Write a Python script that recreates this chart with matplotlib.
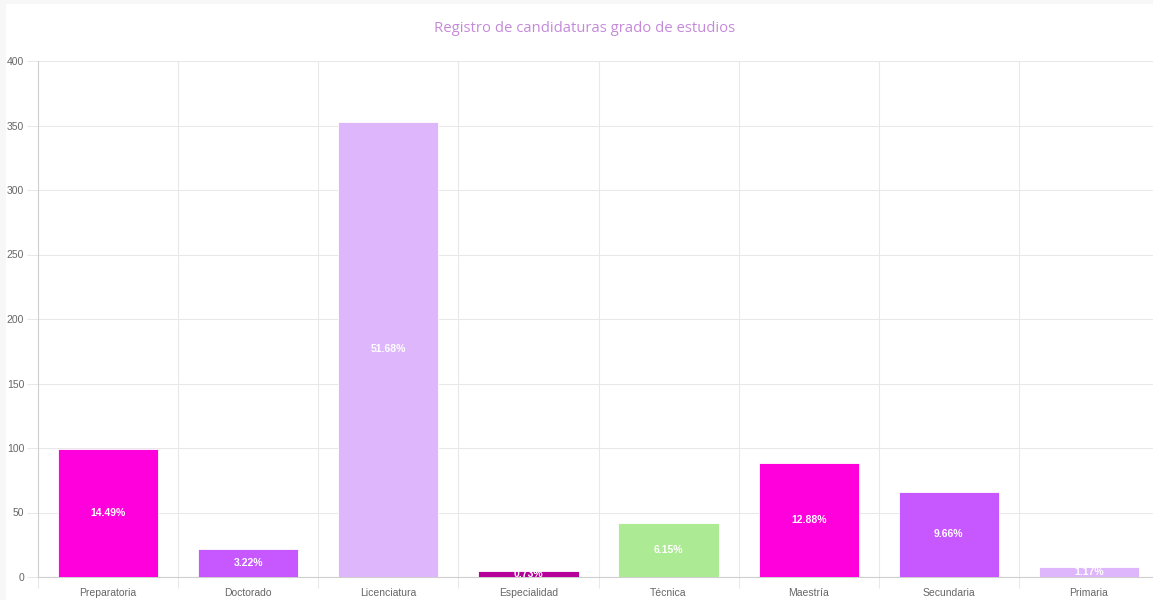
import matplotlib.pyplot as plt
from matplotlib.patches import Rectangle
import numpy as np

categorias = ['Preparatoria', 'Doctorado', 'Licenciatura', 'Especialidad',
              'Técnica', 'Maestría', 'Secundaria', 'Primaria']
valores = [99, 22, 353, 5, 42, 88, 66, 8]
porcentajes = ['14.49%', '3.22%', '51.68%', '0.73%', '6.15%', '12.88%', '9.66%', '1.17%']
colores = ['#ff00dd', '#c757fe', '#ddb6fb', '#b5009a',
           '#acea94', '#ff00dd', '#c757fe', '#ddb6fb']
y_ticks = [0, 50, 100, 150, 200, 250, 300, 350, 400]

W, H = 1153, 600
fig = plt.figure(figsize=(W / 100, H / 100), dpi=100)
fig.patch.set_facecolor('#f7f7f7')
fig.patches.append(Rectangle((6 / W, 0), 1, 1 - 4 / H, transform=fig.transFigure,
                             facecolor='white', edgecolor='none', zorder=-10))

left, right, top, bottom = 38, 1159, 61, 577
ax = fig.add_axes([left / W, 1 - bottom / H, (right - left) / W, (bottom - top) / H])
ax.set_facecolor('none')

x = np.arange(len(categorias))
bars = ax.bar(x, valores, width=0.715, color=colores, edgecolor='white',
              linewidth=0.6, zorder=3)
for b, p in zip(bars, porcentajes):
    ax.text(b.get_x() + b.get_width() / 2, b.get_height() / 2, p,
            ha='center', va='center', color='white', fontsize=7.5,
            fontweight='bold', family='Liberation Sans', zorder=4)

ax.set_xlim(-0.5, len(categorias) - 0.5)
ax.set_ylim(0, 400)
ax.set_yticks(y_ticks)
ax.set_xticks(x)
ax.set_xticklabels(categorias)
ax.set_xticks(np.arange(len(categorias)) - 0.5, minor=True)

ax.grid(axis='y', color='#e8e8e8', linewidth=0.75, zorder=0)
ax.grid(axis='x', which='minor', color='#e8e8e8', linewidth=0.75, zorder=0)
ax.tick_params(axis='x', which='major', length=0, pad=8)
ax.tick_params(axis='x', which='minor', length=8, color='#e8e8e8', width=0.75)
ax.tick_params(axis='y', length=8, color='#e8e8e8', width=0.75, pad=2)
for lbl in ax.get_xticklabels() + ax.get_yticklabels():
    lbl.set_family('Liberation Sans')
    lbl.set_fontsize(7.5)
    lbl.set_color('#666666')

for s in ['top', 'right']:
    ax.spines[s].set_visible(False)
ax.spines['left'].set_color('#cfcfcf')
ax.spines['bottom'].set_color('#cfcfcf')
ax.spines['left'].set_linewidth(0.8)
ax.spines['bottom'].set_linewidth(0.8)

fig.text(585 / W, 1 - 28 / H, 'Registro de candidaturas grado de estudios',
         ha='center', va='center', fontsize=10.7, color='#c48ad9', family='Open Sans')

fig.savefig('out.png', dpi=100)
